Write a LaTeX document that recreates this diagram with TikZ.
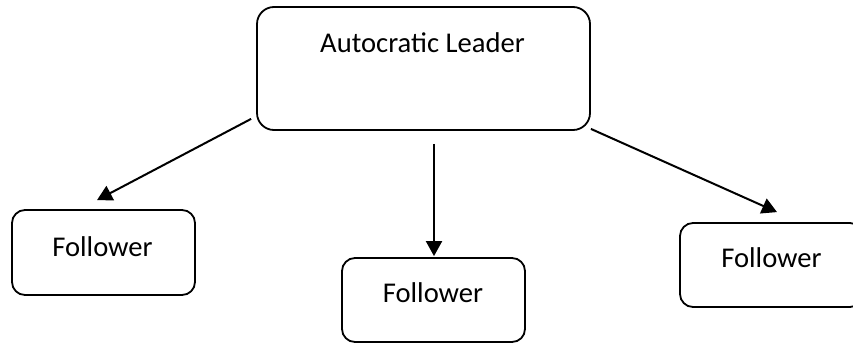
\documentclass[tikz,border=0pt]{standalone}
\usepackage{fontspec}
\setmainfont{Carlito}
\usetikzlibrary{arrows.meta,calc}

\tikzset{
  rolebox/.style={draw=black, line width=1.8pt, fill=white, rounded corners=13pt,
    minimum width=183pt, minimum height=84pt, inner sep=0pt},
  roletext/.style={font=\fontsize{28.6}{32}\selectfont, inner sep=0pt},
  link/.style={line width=2pt, -{Triangle[length=15pt,width=16pt]}},
}

\begin{document}
\begin{tikzpicture}[x=1pt, y=-1pt]
  \useasboundingbox (0,0) rectangle (853,343);
  \clip (0,0) rectangle (853,343);

  % leader box, text set near its top
  \node[rolebox, rounded corners=17pt, minimum width=333pt, minimum height=123pt]
    (lead) at (423.5,68.5) {};
  \node[roletext] (leadtxt) at (422.5,43) {Autocratic Leader};

  % followers
  \node[rolebox, minimum height=85pt] (fl) at (103.5,252.5) {};
  \node[roletext] (fltxt) at (102.5,247) {Follower};

  \node[rolebox] (fm) at (433.5,300) {};
  \node[roletext] (fmtxt) at (433,293) {Follower};

  \node[rolebox] (fr) at (771.5,265) {};
  \node[roletext] (frtxt) at (771.5,258) {Follower};

  % connector ends, offset from the boxes
  \coordinate (sl) at ($(lead.south west)+(-5,-12)$);
  \coordinate (el) at ($(fl.north)+(-6.5,-9)$);
  \coordinate (sm) at ($(lead.south)+(10.5,13)$);
  \coordinate (em) at ($(fm.north)+(0.5,-1)$);
  \coordinate (sr) at ($(lead.south east)+(0,-2)$);
  \coordinate (er) at ($(fr.north)+(5.5,-10)$);

  \draw[link] (sl) -- (el);
  \draw[link] (sm) -- (em);
  \draw[link] (sr) -- (er);
\end{tikzpicture}
\end{document}
